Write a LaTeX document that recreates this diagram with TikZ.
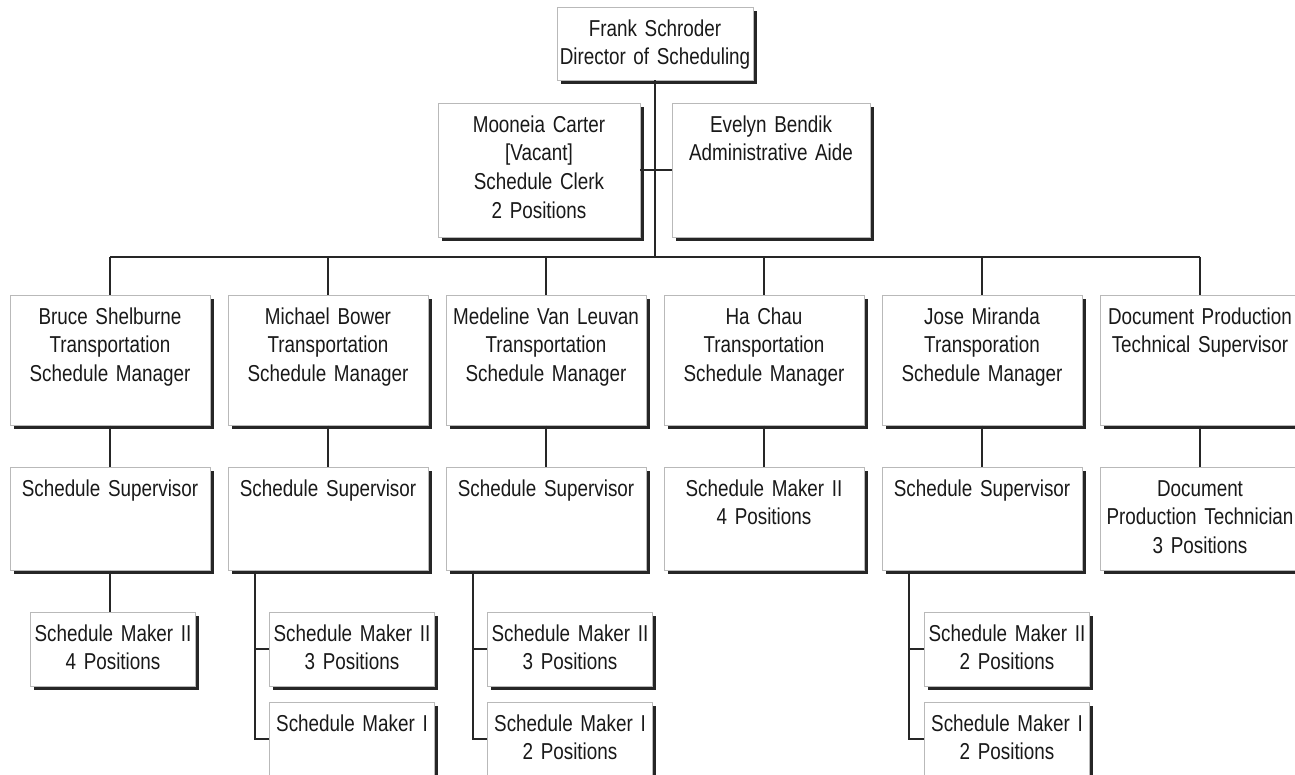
\documentclass[tikz,border=0pt]{standalone}
\usepackage{fontspec}
\setmainfont{Liberation Sans}[FakeStretch=0.82]
\usetikzlibrary{shadows}
\newcommand\orgfont{\fontsize{23}{28.6}\selectfont\spaceskip=5.5pt plus 2pt\relax}

\begin{document}
\begin{tikzpicture}[x=1pt, y=-1pt,
		box/.style 2 args={draw=gray!55, line width=0.5pt, fill=white, anchor=north, align=center,
			text width=#1, text height=17pt, text depth=#2, inner xsep=2pt, inner ysep=12pt,
			drop shadow={shadow xshift=3.5pt, shadow yshift=-3.5pt, fill=black!85, opacity=1}},
		conn/.style={draw=black!85, line width=1.6pt},   %Verbindungslinien
		font=\orgfont, text=black!90]
		\useasboundingbox (0,0) rectangle (1295,775);
		% Leitung
		\node[box={192pt}{32pt}] (dir) at (655,7) {Frank Schroder\\Director of Scheduling};
		\node[box={198pt}{93pt}] (clerk) at (539,103) {Mooneia Carter\\{[}Vacant{]}\\Schedule Clerk\\2 Positions};
		\node[box={194pt}{93pt}] (aide) at (771,103) {Evelyn Bendik\\Administrative Aide};
		% Manager
		\node[box={196pt}{89pt}] (m1) at (110,295) {Bruce Shelburne\\Transportation\\Schedule Manager};
		\node[box={196pt}{89pt}] (m2) at (328,295) {Michael Bower\\Transportation\\Schedule Manager};
		\node[box={196pt}{89pt}] (m3) at (546,295) {Medeline Van Leuvan\\Transportation\\Schedule Manager};
		\node[box={196pt}{89pt}] (m4) at (764,295) {Ha Chau\\Transportation\\Schedule Manager};
		\node[box={196pt}{89pt}] (m5) at (982,295) {Jose Miranda\\Transporation\\Schedule Manager};
		\node[box={196pt}{89pt}] (m6) at (1200,295) {Document Production\\Technical Supervisor};
		% Supervisor
		\node[box={196pt}{62pt}] (s1) at (110,467) {Schedule Supervisor};
		\node[box={196pt}{62pt}] (s2) at (328,467) {Schedule Supervisor};
		\node[box={196pt}{62pt}] (s3) at (546,467) {Schedule Supervisor};
		\node[box={196pt}{62pt}] (s4) at (764,467) {Schedule Maker II\\4 Positions};
		\node[box={196pt}{62pt}] (s5) at (982,467) {Schedule Supervisor};
		\node[box={196pt}{62pt}] (s6) at (1200,467) {Document\\Production Technician\\3 Positions};
		% Schedule Maker
		\node[box={161pt}{33pt}] (b1) at (113,612) {Schedule Maker II\\4 Positions};
		\node[box={161pt}{33pt}] (c2a) at (352,612) {Schedule Maker II\\3 Positions};
		\node[box={161pt}{33pt}] (c2b) at (352,702) {Schedule Maker I};
		\node[box={161pt}{33pt}] (c3a) at (570,612) {Schedule Maker II\\3 Positions};
		\node[box={161pt}{33pt}] (c3b) at (570,702) {Schedule Maker I\\2 Positions};
		\node[box={161pt}{33pt}] (c5a) at (1007,612) {Schedule Maker II\\2 Positions};
		\node[box={161pt}{33pt}] (c5b) at (1007,702) {Schedule Maker I\\2 Positions};
		% Verbindungen
		\coordinate (bus) at (655,257);
		\draw[conn] (dir.south) -- (bus);
		\draw[conn] (clerk.east) -- (aide.west);
		\draw[conn] (m1.north |- bus) -- (m6.north |- bus);
		\foreach \n in {1,...,6} {
			\draw[conn] (m\n.north) -- (m\n.north |- bus);
			\draw[conn] (m\n.south) -- (s\n.north);
		}
		\draw[conn] (s1.south) -- (s1.south |- b1.north);
		\foreach \n in {2,3,5} {
			\coordinate (sp\n) at ([xshift=-73pt]s\n.south);
			\draw[conn] (sp\n) |- (c\n b.west);
			\draw[conn] (sp\n |- c\n a.west) -- (c\n a.west);
		}
	\end{tikzpicture}
\end{document}
